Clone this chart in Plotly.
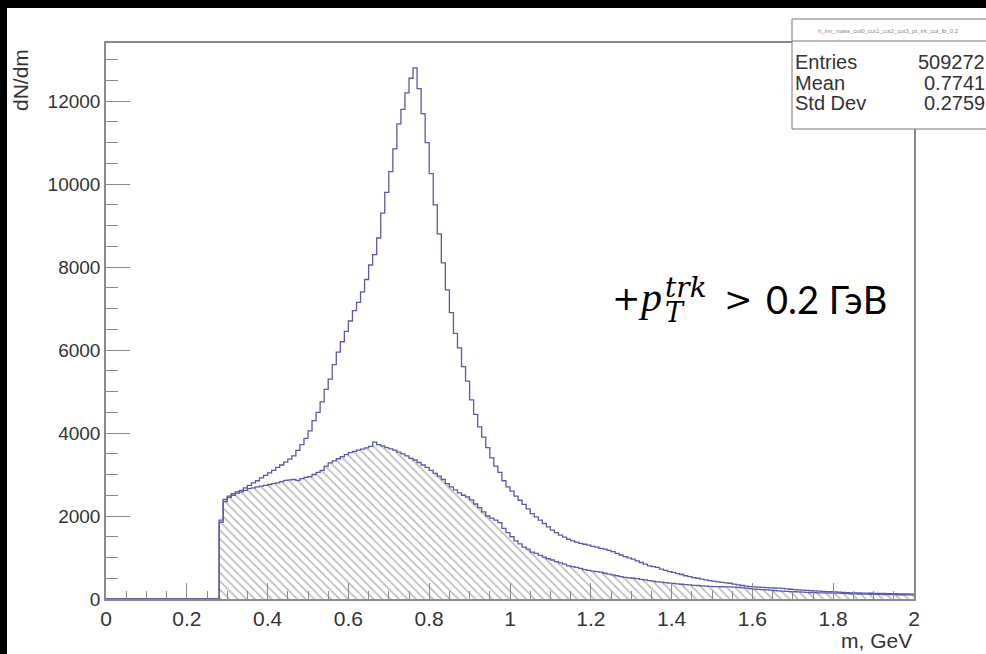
import numpy as np
import plotly.graph_objects as go

# ---------------- data ----------------
bin_width = 0.01
first_filled_bin = 0.28
n_bins = 200
x_range = [0, 2]
y_range = [0, 13400]

# all pairs (upper, open histogram), bins 0.28 ... 1.99
total_counts = [
    1900, 2400, 2480, 2540, 2580, 2620, 2680, 2740, 2800, 2850,
    2920, 2980, 3040, 3100, 3170, 3230, 3300, 3370, 3450, 3580,
    3720, 3870, 4050, 4300, 4500, 4750, 5050, 5300, 5650, 5950,
    6200, 6450, 6700, 6950, 7150, 7400, 7700, 8050, 8300, 8700,
    9300, 9800, 10300, 10850, 11450, 11800, 12200, 12550, 12800, 12300,
    11700, 11000, 10250, 9500, 8800, 8100, 7450, 6900, 6400, 6050,
    5600, 5250, 4800, 4450, 4150, 3900, 3650, 3400, 3200, 3050,
    2850, 2700,
    2600, 2480, 2380, 2280, 2170, 2060, 1980, 1900, 1820, 1740,
    1660, 1600, 1540, 1490, 1440, 1400, 1370, 1340, 1320, 1300,
    1270, 1250, 1220, 1200, 1170, 1140, 1100, 1060, 1020, 990,
    960, 920, 880, 840, 800, 780, 760, 720, 690, 660,
    640, 610, 590, 560, 540, 515, 500, 480, 460, 445,
    430, 415, 400, 390, 380, 360, 340, 325, 310, 300,
    290, 285, 280, 275, 270, 265, 260, 255, 245, 235,
    225, 220, 212, 206, 200, 195, 190, 185, 180, 175,
    170, 165, 160, 155, 150, 148, 145, 142, 140, 138,
    136, 134, 132, 130, 128, 126, 124, 122, 120, 118,
]

# hatched histogram, bins 0.28 ... 1.99
hatched_counts = [
    1850, 2350, 2450, 2500, 2550, 2580, 2620, 2660, 2680, 2700,
    2720, 2740, 2760, 2780, 2800, 2830, 2860, 2870, 2880, 2860,
    2900, 2930, 2950, 3000, 3050, 3100, 3200, 3280, 3330, 3380,
    3430, 3480, 3530, 3560, 3590, 3610, 3640, 3680, 3780, 3720,
    3690, 3650, 3620, 3590, 3540, 3500, 3450, 3390, 3350, 3290,
    3230, 3170, 3100, 3030, 2960, 2880, 2780, 2700, 2630, 2560,
    2500, 2460, 2390, 2290, 2200, 2100, 2000, 1950, 1900, 1840,
    1700, 1600,
    1500, 1400, 1330, 1250, 1200, 1130, 1100, 1050, 1010, 970,
    940, 900, 870, 840, 800, 780, 760, 740, 710, 690,
    670, 660, 650, 620, 600, 580, 560, 540, 520, 510,
    500, 490, 475, 460, 445, 430, 415, 405, 395, 385,
    375, 365, 355, 345, 340, 330, 325, 315, 310, 305,
    300, 298, 295, 292, 290, 285, 280, 270, 260, 250,
    240, 230, 225, 218, 212, 205, 198, 192, 185, 180,
    175, 170, 165, 160, 157, 154, 150, 148, 146, 144,
    142, 140, 135, 130, 126, 122, 120, 118, 116, 114,
    112, 110, 108, 106, 105, 104, 103, 102, 101, 100,
]

stats_title = "h_inv_mass_cut0_cut1_cut2_cut3_pt_trk_cut_lb_0.2"
stats_labels = ["Entries", "Mean", "Std Dev"]
stats_values = ["509272", "0.7741", "0.2759"]

x_title = "m, GeV"
y_title = "dN/dm"

# ---------------- build ----------------
W, H = 986, 654
L, R, T, B = 106, 914, 43, 599  # plot area in pixels


def px_x(p):
    return (p - L) / (R - L)


def px_y(p):
    return (B - p) / (B - T)


lead = int(round(first_filled_bin / bin_width))
edges = np.round(np.arange(n_bins + 1) * bin_width, 4)


def steps(counts):
    arr = [0] * lead + list(counts)
    arr = arr + [0] * (n_bins - len(arr))
    return arr + [arr[-1]]


line_col = "#5a5aa6"
axis_col = "#8a8a8a"
text_col = "#333333"
sans = "Liberation Sans, Arial, sans-serif"

fig = go.Figure()
fig.add_trace(go.Scatter(
    x=edges, y=steps(hatched_counts), mode="lines",
    line=dict(shape="hv", color=line_col, width=1.3),
    fill="tozeroy", fillcolor="white",
    fillpattern=dict(shape="\\", fgcolor="#7a7a7a", bgcolor="white",
                     size=6, solidity=0.28),
    hoverinfo="skip", showlegend=False,
))
fig.add_trace(go.Scatter(
    x=edges, y=steps(total_counts), mode="lines",
    line=dict(shape="hv", color=line_col, width=1.3),
    hoverinfo="skip", showlegend=False,
))

fig.update_layout(
    width=W, height=H,
    margin=dict(l=L, r=W - R, t=T, b=H - B, pad=0),
    paper_bgcolor="white", plot_bgcolor="white",
    showlegend=False,
)
fig.update_xaxes(
    range=x_range, tick0=0, dtick=0.2, ticks="inside", ticklen=16,
    tickcolor=axis_col, tickwidth=1,
    minor=dict(dtick=0.05, ticks="inside", ticklen=8, tickcolor=axis_col),
    showgrid=False, zeroline=False, showline=True, linecolor=axis_col,
    linewidth=1.5, mirror=True,
    tickfont=dict(family=sans, size=21, color=text_col),
)
fig.update_yaxes(
    range=y_range, tick0=0, dtick=2000, ticks="inside", ticklen=24,
    tickformat="d",
    tickcolor=axis_col, tickwidth=1,
    minor=dict(dtick=500, ticks="inside", ticklen=12, tickcolor=axis_col),
    showgrid=False, zeroline=False, showline=True, linecolor=axis_col,
    linewidth=1.5, mirror=True,
    tickfont=dict(family=sans, size=19, color=text_col),
)

shapes = []
# black screenshot borders (top and left)
shapes.append(dict(type="rect", xref="paper", yref="paper",
                   x0=px_x(0), x1=px_x(W), y0=px_y(8), y1=px_y(0),
                   fillcolor="black", line=dict(width=0), layer="above"))
shapes.append(dict(type="rect", xref="paper", yref="paper",
                   x0=px_x(0), x1=px_x(7), y0=px_y(H), y1=px_y(0),
                   fillcolor="black", line=dict(width=0), layer="above"))
# stats box
shapes.append(dict(type="rect", xref="paper", yref="paper",
                   x0=px_x(792), x1=px_x(990), y0=px_y(129), y1=px_y(19),
                   fillcolor="white", line=dict(color="#777777", width=1),
                   layer="above"))
shapes.append(dict(type="line", xref="paper", yref="paper",
                   x0=px_x(792), x1=px_x(990), y0=px_y(41), y1=px_y(41),
                   line=dict(color="#777777", width=1), layer="above"))
fig.update_layout(shapes=shapes)

ann = []
ann.append(dict(xref="paper", yref="paper", x=px_x(888), y=px_y(31),
                text=stats_title, showarrow=False, xanchor="center",
                yanchor="middle", font=dict(family=sans, size=6, color="#888")))
for i, (lab, val) in enumerate(zip(stats_labels, stats_values)):
    yc = [62, 83, 103][i]
    ann.append(dict(xref="paper", yref="paper", x=px_x(794), y=px_y(yc),
                    text=lab, showarrow=False, xanchor="left", yanchor="middle",
                    borderpad=0,
                    font=dict(family=sans, size=20, color=text_col)))
    ann.append(dict(xref="paper", yref="paper", x=px_x(986), y=px_y(yc),
                    text=val, showarrow=False, xanchor="right", yanchor="middle",
                    borderpad=0,
                    font=dict(family=sans, size=20, color=text_col)))

# axis titles
ann.append(dict(xref="paper", yref="paper", x=1.0, y=px_y(640), text=x_title,
                showarrow=False, xanchor="right", yanchor="middle",
                font=dict(family=sans, size=21, color=text_col)))
ann.append(dict(xref="paper", yref="paper", x=px_x(21), y=px_y(47), text=y_title,
                showarrow=False, xanchor="center", yanchor="top", textangle=-90,
                font=dict(family=sans, size=21, color=text_col)))

# cut label: + p_T^trk > 0.2 ГэВ
serif = "Liberation Serif, Times New Roman, serif"
mserif = "DejaVu Serif, serif"
ann.append(dict(xref="paper", yref="paper", x=px_x(611), y=px_y(298),
                text="+", showarrow=False, xanchor="left", yanchor="middle",
                borderpad=0,
                font=dict(family=mserif, size=34, color="black")))
ann.append(dict(xref="paper", yref="paper", x=px_x(637), y=px_y(297),
                text="<i>p</i>", showarrow=False, xanchor="left", yanchor="middle",
                borderpad=0,
                font=dict(family=serif, size=42, color="black")))
ann.append(dict(xref="paper", yref="paper", x=px_x(664), y=px_y(287),
                text="<i>trk</i>", showarrow=False, xanchor="left", yanchor="middle",
                borderpad=0,
                font=dict(family=mserif, size=28, color="black")))
ann.append(dict(xref="paper", yref="paper", x=px_x(664), y=px_y(312),
                text="<i>T</i>", showarrow=False, xanchor="left", yanchor="middle",
                borderpad=0,
                font=dict(family=mserif, size=27, color="black")))
ann.append(dict(xref="paper", yref="paper", x=px_x(723), y=px_y(299),
                text="&gt;", showarrow=False, xanchor="left", yanchor="middle",
                borderpad=0,
                font=dict(family=mserif, size=34, color="black")))
ann.append(dict(xref="paper", yref="paper", x=px_x(765), y=px_y(299),
                text="0.2 ГэВ", showarrow=False, xanchor="left", yanchor="middle",
                borderpad=0,
                font=dict(family="Lato, Noto Sans, sans-serif", size=38, color="black")))
fig.update_layout(annotations=ann)

fig.write_html("out.html", config={"displayModeBar": False},
               post_script="document.body.style.margin='0';document.body.style.overflow='hidden';")
